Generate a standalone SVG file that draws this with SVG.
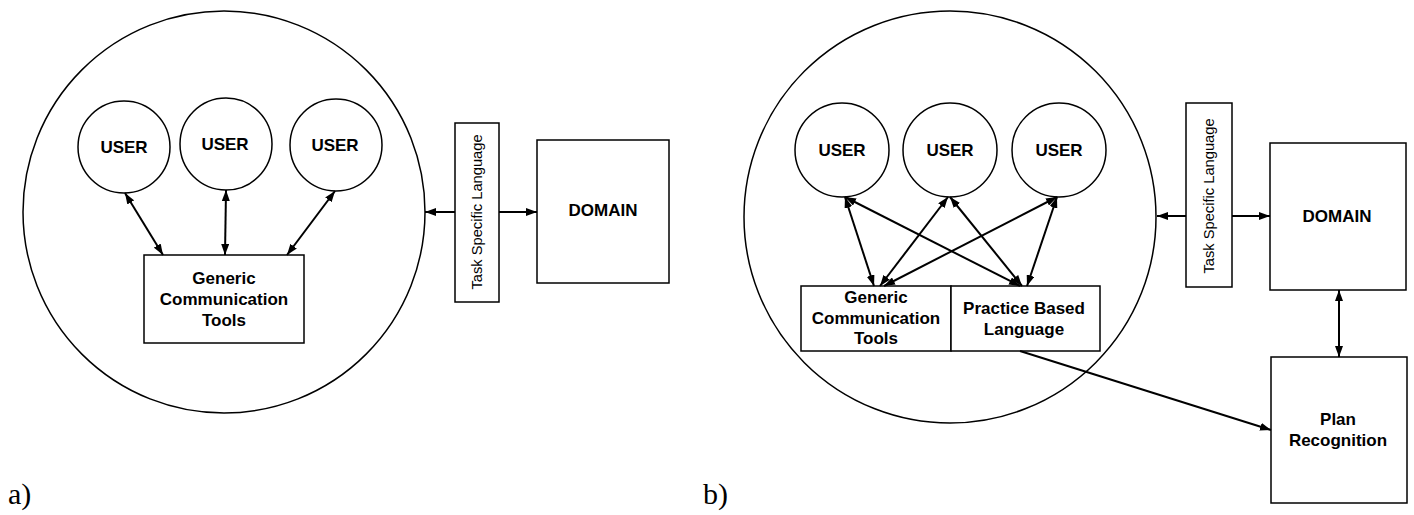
<svg xmlns="http://www.w3.org/2000/svg" width="1414" height="515" viewBox="0 0 1414 515">
  <style>
    .shape { fill: #ffffff; stroke: #000000; stroke-width: 1.5; }
    .ring { fill: none; stroke: #000000; stroke-width: 1.5; }
    .lbl { font-family: "Liberation Sans", Arial, sans-serif; font-weight: bold; font-size: 17px; fill: #000000; text-anchor: middle; }
    .vlbl { font-family: "Liberation Sans", Arial, sans-serif; font-size: 14.7px; fill: #000000; text-anchor: middle; }
    .cap { font-family: "Liberation Serif", "Times New Roman", serif; font-size: 30px; fill: #000000; }
    .link { fill: none; stroke: #000000; stroke-width: 2; }
    .both { marker-start: url(#head); marker-end: url(#head); }
    .one { marker-end: url(#head); }
  </style>
  <defs>
    <marker id="head" viewBox="0 0 11 8" refX="11" refY="4" markerWidth="11" markerHeight="8" markerUnits="userSpaceOnUse" orient="auto-start-reverse">
      <path d="M0,0 L11,4 L0,8 Z" fill="#000000"/>
    </marker>
  </defs>
  <rect width="1414" height="515" fill="#ffffff"/>

  <!-- ===== Panel a ===== -->
  <g id="a-community"><circle class="ring" cx="224" cy="212" r="201"/></g>
  <g id="a-user1"><circle class="shape" cx="124" cy="147" r="46"/><text class="lbl" x="124" y="153">USER</text></g>
  <g id="a-user2"><circle class="shape" cx="226" cy="144" r="46"/><text class="lbl" x="225" y="150">USER</text></g>
  <g id="a-user3"><circle class="shape" cx="336" cy="145" r="46"/><text class="lbl" x="335" y="151">USER</text></g>
  <g id="a-tools">
    <rect class="shape" x="144" y="255" width="160" height="88"/>
    <text class="lbl" x="224" y="284">Generic</text>
    <text class="lbl" x="224" y="305">Communication</text>
    <text class="lbl" x="224" y="326">Tools</text>
  </g>
  <g id="a-tsl">
    <rect class="shape" x="455" y="123" width="44" height="179"/>
    <text class="vlbl" transform="translate(482 212) rotate(-90)" x="0" y="0">Task Specific Language</text>
  </g>
  <g id="a-domain">
    <rect class="shape" x="537" y="140" width="132" height="143"/>
    <text class="lbl" x="603" y="216">DOMAIN</text>
  </g>
  <g id="a-caption"><text class="cap" x="8" y="504">a)</text></g>

  <g id="a-connectors">
    <line class="link both" x1="125" y1="193" x2="163" y2="255"/>
    <line class="link both" x1="226" y1="190" x2="225" y2="255"/>
    <line class="link both" x1="335" y1="191" x2="287" y2="255"/>
    <line class="link one" x1="455" y1="212" x2="425" y2="212"/>
    <line class="link one" x1="499" y1="212" x2="537" y2="212"/>
  </g>

  <!-- ===== Panel b ===== -->
  <g id="b-community"><circle class="ring" cx="950" cy="217" r="206"/></g>
  <g id="b-user1"><circle class="shape" cx="842" cy="150" r="47"/><text class="lbl" x="842" y="156">USER</text></g>
  <g id="b-user2"><circle class="shape" cx="950" cy="150" r="47"/><text class="lbl" x="950" y="156">USER</text></g>
  <g id="b-user3"><circle class="shape" cx="1059" cy="150" r="47"/><text class="lbl" x="1059" y="156">USER</text></g>
  <g id="b-tools">
    <rect class="shape" x="801" y="286" width="150" height="65"/>
    <text class="lbl" x="876" y="303">Generic</text>
    <text class="lbl" x="876" y="324">Communication</text>
    <text class="lbl" x="876" y="344">Tools</text>
  </g>
  <g id="b-practice">
    <rect class="shape" x="951" y="286" width="149" height="65"/>
    <text class="lbl" x="1024" y="314">Practice Based</text>
    <text class="lbl" x="1024" y="335">Language</text>
  </g>
  <g id="b-tsl">
    <rect class="shape" x="1186" y="103" width="46" height="184"/>
    <text class="vlbl" transform="translate(1214 196) rotate(-90)" x="0" y="0">Task Specific Language</text>
  </g>
  <g id="b-domain">
    <rect class="shape" x="1270" y="143" width="136" height="147"/>
    <text class="lbl" x="1337" y="222">DOMAIN</text>
  </g>
  <g id="b-plan">
    <rect class="shape" x="1271" y="357" width="136" height="146"/>
    <text class="lbl" x="1338" y="425">Plan</text>
    <text class="lbl" x="1338" y="446">Recognition</text>
  </g>
  <g id="b-caption"><text class="cap" x="703" y="504">b)</text></g>

  <g id="b-connectors">
    <line class="link both" x1="845" y1="197" x2="874" y2="286"/>
    <line class="link both" x1="845" y1="197" x2="1020" y2="286"/>
    <line class="link both" x1="948" y1="197" x2="880" y2="286"/>
    <line class="link both" x1="950" y1="197" x2="1022" y2="286"/>
    <line class="link both" x1="1057" y1="197" x2="884" y2="286"/>
    <line class="link both" x1="1057" y1="197" x2="1027" y2="286"/>
    <line class="link one" x1="1186" y1="216" x2="1157" y2="216"/>
    <line class="link one" x1="1232" y1="216" x2="1270" y2="216"/>
    <line class="link both" x1="1339" y1="290" x2="1339" y2="357"/>
    <line class="link one" x1="1020" y1="351" x2="1271" y2="430"/>
  </g>
</svg>
